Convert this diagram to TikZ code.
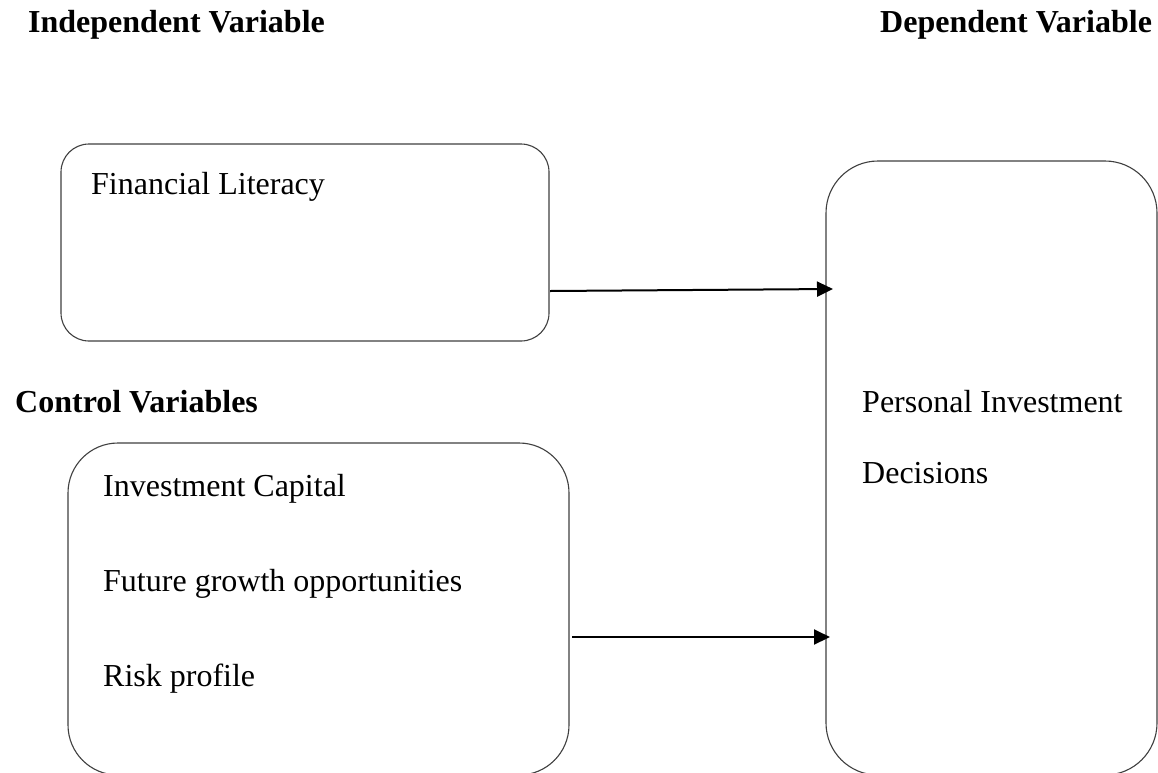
\documentclass[tikz,border=0pt]{standalone}
\usepackage{fontspec}
\setmainfont{Liberation Serif}
\usetikzlibrary{arrows.meta}
\begin{document}
\begin{tikzpicture}[x=1pt,y=-1pt,
  box/.style={draw=black!75, line width=1.1pt, inner sep=0pt, rectangle},
  lbl/.style={anchor=base west, inner sep=0pt, font=\fontsize{32}{38}\selectfont},
  hd/.style={anchor=base west, inner sep=0pt, font=\fontsize{32}{38}\selectfont\bfseries},
  arr/.style={line width=2pt, -{Triangle[length=16pt,width=15pt]}}]
\useasboundingbox (0,0) rectangle (1158,772);
\clip (0,0) rectangle (1158,772);
\fill[white] (0,0) rectangle (1158,772);
% boxes
\node[box, rounded corners=28pt, minimum width=488pt, minimum height=197pt] (fl) at (305,242.5) {};
\node[box, rounded corners=50pt, minimum width=501pt, minimum height=332pt] (cv) at (318.5,609) {};
\node[box, rounded corners=52pt, minimum width=331pt, minimum height=614pt] (dv) at (991.5,468) {};
% headings
\node[hd] (ih) at (28,32) {Independent Variable};
\node[hd] (dh) at (880,32) {Dependent Variable};
\node[hd] (ch) at (15,412) {Control Variables};
% box texts
\node[lbl] (t1) at (91,194) {Financial Literacy};
\node[lbl] (t2) at (103,496) {Investment Capital};
\node[lbl] (t3) at (103,591) {Future growth opportunities};
\node[lbl] (t4) at (103,686) {Risk profile};
\node[lbl] (t5) at (862,412) {Personal Investment};
\node[lbl] (t6) at (862,483) {Decisions};
% arrows
\coordinate (a1s) at (550,291);
\coordinate (a1e) at (833,289);
\coordinate (a2s) at (572,637);
\coordinate (a2e) at (830,637);
\draw[arr] (a1s) -- (a1e);
\draw[arr] (a2s) -- (a2e);
\end{tikzpicture}
\end{document}
